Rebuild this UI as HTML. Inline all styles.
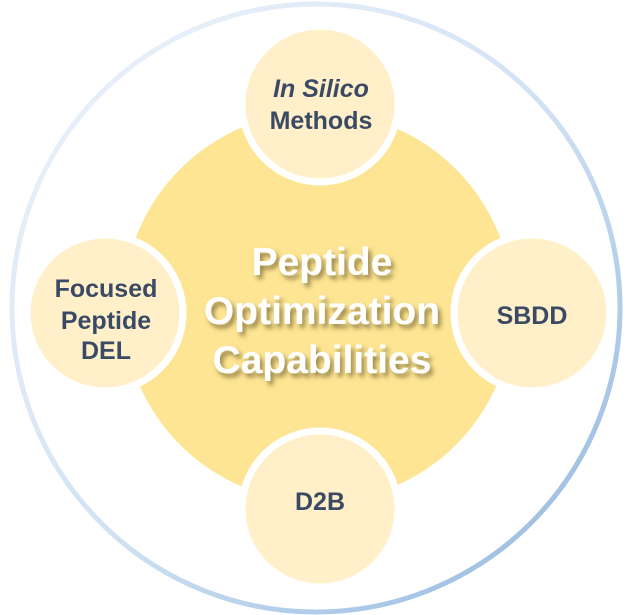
<!DOCTYPE html>
<html><head><meta charset="utf-8"><style>
html,body{margin:0;padding:0;background:#fff;}
svg{display:block}
text{font-family:"Liberation Sans",Arial,sans-serif;font-weight:bold;}
</style></head><body>
<svg width="633" height="615" viewBox="0 0 633 615" xmlns="http://www.w3.org/2000/svg">
<defs>
<linearGradient id="ring" x1="0" y1="0" x2="1" y2="1">
<stop offset="0" stop-color="#eef4fb"/>
<stop offset="0.5" stop-color="#d3e3f4"/>
<stop offset="1" stop-color="#8fb5de"/>
</linearGradient>
<filter id="ts" x="-20%" y="-30%" width="140%" height="160%">
<feGaussianBlur in="SourceAlpha" stdDeviation="2.5" result="b"/>
<feOffset in="b" dx="3" dy="4" result="o"/>
<feFlood flood-color="#5a4a1a" flood-opacity="0.6"/>
<feComposite in2="o" operator="in" result="s"/>
<feMerge><feMergeNode in="s"/><feMergeNode in="SourceGraphic"/></feMerge>
</filter>
</defs>
<circle cx="316" cy="308" r="304" fill="#fff" stroke="url(#ring)" stroke-width="5"/>
<circle cx="318" cy="307" r="195" fill="#fde593"/>
<g fill="#fff0c9" stroke="#fff" stroke-width="7">
<circle cx="320" cy="104" r="78"/>
<circle cx="105" cy="313" r="78"/>
<circle cx="532" cy="313" r="78"/>
<circle cx="320" cy="509" r="78"/>
</g>
<g fill="#fff" font-size="39" text-anchor="middle" filter="url(#ts)">
<text x="322" y="275">Peptide</text>
<text x="322" y="324">Optimization</text>
<text x="322" y="373">Capabilities</text>
</g>
<g fill="#3b4a64" font-size="25" text-anchor="middle">
<text x="321" y="97" font-style="italic">In Silico</text>
<text x="321" y="129">Methods</text>
<text x="106" y="297">Focused</text>
<text x="106" y="329">Peptide</text>
<text x="106" y="359">DEL</text>
<text x="532" y="324">SBDD</text>
<text x="320" y="510">D2B</text>
</g>
</svg>
</body></html>
